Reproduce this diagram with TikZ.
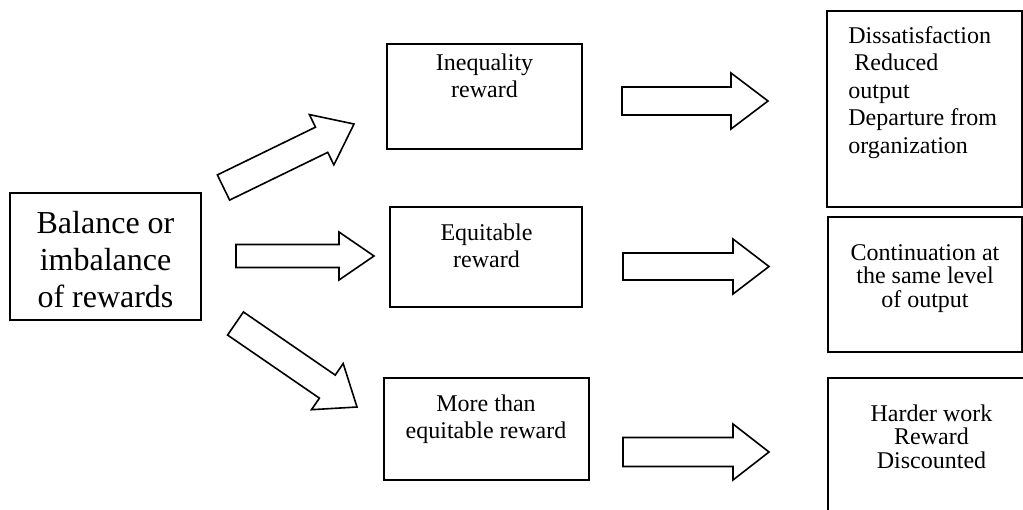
\documentclass[tikz,border=0pt]{standalone}
\usepackage{fontspec}
\setmainfont{Liberation Serif}
\usetikzlibrary{calc}

% block arrow: #1 tail, #2 tip, #3 shaft half-width, #4 head half-width, #5 head length
\newcommand\blockarrow[5]{%
  \coordinate (#1-hb) at ($(#2)!#5!(#1)$);
  \draw[blk] ($(#1)!#3!-90:(#2)$) -- ($(#1-hb)!#3!-90:(#2)$)
    -- ($(#1-hb)!#4!-90:(#2)$) -- (#2)
    -- ($(#1-hb)!#4!90:(#2)$) -- ($(#1-hb)!#3!90:(#2)$)
    -- ($(#1)!#3!90:(#2)$) -- cycle;}

\newcommand\smalltext{\fontsize{12}{13.75}\selectfont}
\newcommand\tighttext{\fontsize{12}{11.5}\selectfont}
\newcommand\bigtext{\fontsize{16}{18.5}\selectfont}

\tikzset{
  box/.style={draw, line width=0.9pt, inner sep=0pt},
  blk/.style={draw, line width=0.8pt, line join=miter, fill=white},
  txt/.style={anchor=base, inner sep=0pt}
}

\begin{document}
\begin{tikzpicture}[x=0.5pt, y=-0.5pt]
\useasboundingbox (0,0) rectangle (1023,509);
\clip (0,0) rectangle (1023,509);

% frames
\node[box, minimum width=95.5pt, minimum height=63.5pt] (src) at (105.5,256.5) {};
\node[box, minimum width=97.5pt, minimum height=52.5pt] (ineq) at (484.5,96.5) {};
\node[box, minimum width=96pt,   minimum height=50pt]   (equit) at (486,257) {};
\node[box, minimum width=102.5pt, minimum height=51pt]  (more) at (486.5,429) {};
\node[box, minimum width=97.5pt, minimum height=98pt]   (dis) at (924.5,109) {};
\node[box, minimum width=97pt,   minimum height=67.5pt] (cont) at (925,284.5) {};
\node[box, minimum width=106pt,  minimum height=81pt]   (hard) at (934,459) {};

% texts
\node[txt] (srct) at (105.5,233) {\bigtext\begin{tabular}[t]{@{}c@{}}Balance or\\imbalance\\of rewards\end{tabular}};
\node[txt] (ineqt) at (484.5,70) {\smalltext\begin{tabular}[t]{@{}c@{}}Inequality\\reward\end{tabular}};
\node[txt] (equitt) at (486.5,240) {\smalltext\begin{tabular}[t]{@{}c@{}}Equitable\\reward\end{tabular}};
\node[txt] (moret) at (486,411) {\smalltext\begin{tabular}[t]{@{}c@{}}More than\\equitable reward\end{tabular}};
\node[txt, anchor=base west] (dist) at (848,43) {\smalltext\begin{tabular}[t]{@{}l@{}}Dissatisfaction\\\ Reduced\\output\\Departure from\\organization\end{tabular}};
\node[txt] (contt) at (925,260) {\tighttext\begin{tabular}[t]{@{}c@{}}Continuation at\\the same level\\of output\end{tabular}};
\node[txt] (hardt) at (931.5,421) {\tighttext\begin{tabular}[t]{@{}c@{}}Harder work\\Reward\\Discounted\end{tabular}};

% arrow ends
\coordinate (a1s) at (223.5,187.5); \coordinate (a1e) at (354,124);
\coordinate (a2s) at (236,256);     \coordinate (a2e) at (374,256);
\coordinate (a3s) at (235.5,323.5); \coordinate (a3e) at (357,407);
\coordinate (b1s) at (622,101);     \coordinate (b1e) at (768,101);
\coordinate (b2s) at (623,266.5);   \coordinate (b2e) at (769,266.5);
\coordinate (b3s) at (623,452);     \coordinate (b3e) at (769,452);

% block arrows
\blockarrow{a1s}{a1e}{7pt}{14pt}{18pt}
\blockarrow{a2s}{a2e}{5.75pt}{12pt}{17.5pt}
\blockarrow{a3s}{a3e}{7pt}{14pt}{18pt}
\blockarrow{b1s}{b1e}{7pt}{14pt}{18.5pt}
\blockarrow{b2s}{b2e}{6.75pt}{13.75pt}{18pt}
\blockarrow{b3s}{b3e}{7.25pt}{14pt}{18pt}
\end{tikzpicture}
\end{document}
